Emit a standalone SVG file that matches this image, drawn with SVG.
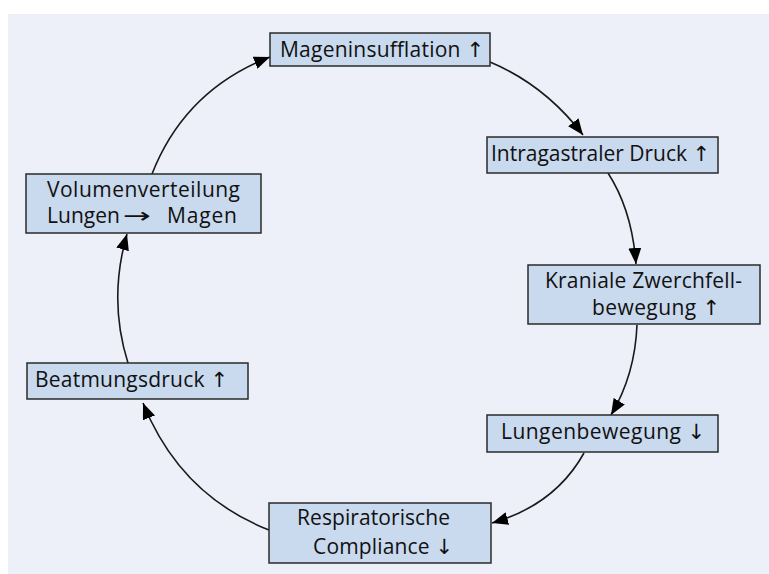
<svg xmlns="http://www.w3.org/2000/svg" width="769" height="574" viewBox="0 0 769 574">
<defs>
<style>
.box{fill:#c9d9ee;stroke:#2a2a2a;stroke-width:1.5}
.t{font-family:"Open Sans","Liberation Sans",sans-serif;font-size:21px;fill:#111}
.a{font-family:"DejaVu Sans",sans-serif;font-weight:normal}
.c{fill:none;stroke:#1a1a1a;stroke-width:1.6}
</style>
<marker id="ah" viewBox="0 0 16 13" refX="16" refY="6.5" markerWidth="16" markerHeight="13" markerUnits="userSpaceOnUse" orient="auto">
<path d="M0,0 L16,6.5 L0,13 Z" fill="#000"/>
</marker>
</defs>
<rect x="0" y="0" width="769" height="574" fill="#fff"/>
<rect x="8" y="14" width="761" height="560" fill="#edf0f8"/>
<g id="connectors">
<path class="c" d="M490,62 Q545,85 583,135" marker-end="url(#ah)"/>
<path class="c" d="M608,173 Q632,210 636,264" marker-end="url(#ah)"/>
<path class="c" d="M637,325 Q635,375 611,415" marker-end="url(#ah)"/>
<path class="c" d="M584,453 Q555,505 492,523" marker-end="url(#ah)"/>
<path class="c" d="M269,530 Q180,495 143,403" marker-end="url(#ah)"/>
<path class="c" d="M128,363 Q108,300 127,234" marker-end="url(#ah)"/>
<path class="c" d="M152,174 Q185,90 270,57" marker-end="url(#ah)"/>
</g>
<g id="n1"><rect class="box" x="270" y="33" width="220" height="33"/><text class="t" x="280" y="57" textLength="204">Mageninsufflation <tspan class="a">↑</tspan></text></g>
<g id="n2"><rect class="box" x="487" y="137" width="231" height="36"/><text class="t" x="491" y="161" textLength="219">Intragastraler Druck <tspan class="a">↑</tspan></text></g>
<g id="n3"><rect class="box" x="528" y="265" width="232" height="59"/><text class="t" x="545" y="288" textLength="197">Kraniale Zwerchfell-</text><text class="t" x="592" y="315" textLength="128">bewegung <tspan class="a">↑</tspan></text></g>
<g id="n4"><rect class="box" x="487" y="415" width="231" height="37"/><text class="t" x="501" y="439" textLength="204">Lungenbewegung <tspan class="a">↓</tspan></text></g>
<g id="n5"><rect class="box" x="269" y="503" width="222" height="60"/><text class="t" x="297" y="525" textLength="153">Respiratorische</text><text class="t" x="313" y="554" textLength="140">Compliance <tspan class="a">↓</tspan></text></g>
<g id="n6"><rect class="box" x="27" y="363" width="221" height="36"/><text class="t" x="35" y="387" textLength="193">Beatmungsdruck <tspan class="a">↑</tspan></text></g>
<g id="n7"><rect class="box" x="26" y="174" width="235" height="59"/><text class="t" x="47" y="197" textLength="193">Volumenverteilung</text><text class="t" x="47" y="223" textLength="73">Lungen</text><text class="t a" x="123" y="223" textLength="28" lengthAdjust="spacingAndGlyphs">→</text><text class="t" x="167" y="223" textLength="70">Magen</text></g>
</svg>
